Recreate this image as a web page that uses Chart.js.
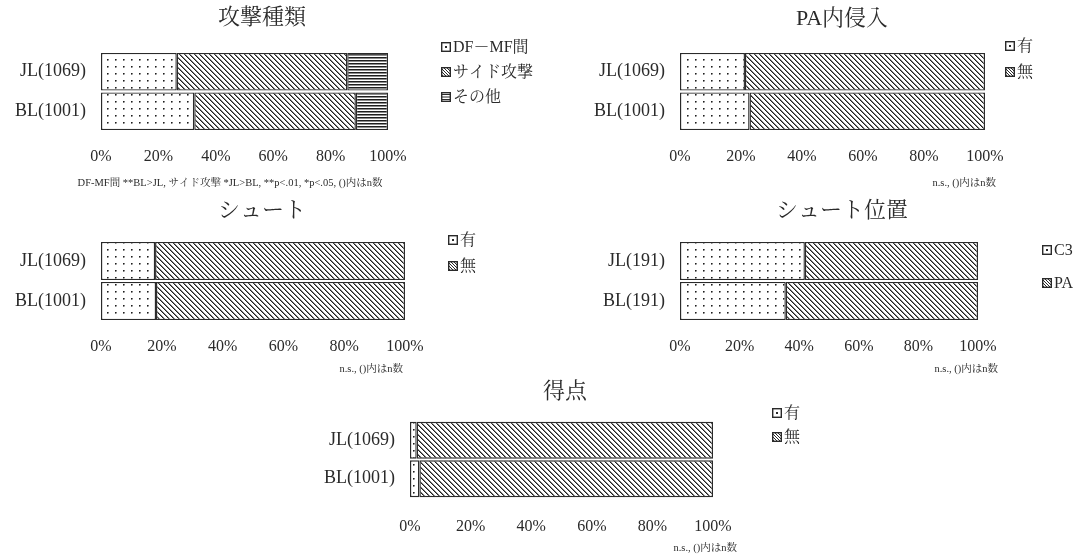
<!DOCTYPE html>
<html>
<head>
<meta charset="utf-8">
<script src="https://cdn.jsdelivr.net/npm/chart.js@4.4.1/dist/chart.umd.min.js"></script>
<style>
  html, body { margin: 0; padding: 0; background: #fff; }
  body { width: 1084px; height: 557px; position: relative; overflow: hidden; }
  canvas { position: absolute; }
</style>
</head>
<body>
<canvas id="cAttack"></canvas>
<canvas id="cPA"></canvas>
<canvas id="cShot"></canvas>
<canvas id="cShotPos"></canvas>
<canvas id="cGoal"></canvas>
<script>
// ---- data (percent of each group) ----
const pctTicks = [0, 20, 40, 60, 80, 100];

const attackTitle = '攻撃種類';
const attackCats = ['JL(1069)', 'BL(1001)'];
const attackLabels = ['DF－MF間', 'サイド攻撃', 'その他'];
const attackDFMF = [26.4, 32.5];
const attackSide = [59.4, 56.3];
const attackOther = [14.2, 11.2];
const attackNote = 'DF-MF間 **BL>JL, サイド攻撃 *JL>BL, **p<.01, *p<.05, ()内はn数';

const paTitle = 'PA内侵入';
const paCats = ['JL(1069)', 'BL(1001)'];
const paLabels = ['有', '無'];
const paYes = [21.3, 22.8];
const paNo = [78.7, 77.2];

const shotTitle = 'シュート';
const shotCats = ['JL(1069)', 'BL(1001)'];
const shotLabels = ['有', '無'];
const shotYes = [17.8, 18.1];
const shotNo = [82.2, 81.9];

const posTitle = 'シュート位置';
const posCats = ['JL(191)', 'BL(191)'];
const posLabels = ['C3', 'PA'];
const posC3 = [41.9, 35.5];
const posPA = [58.1, 64.5];

const goalTitle = '得点';
const goalCats = ['JL(1069)', 'BL(1001)'];
const goalLabels = ['有', '無'];
const goalYes = [2.2, 3.1];
const goalNo = [97.8, 96.9];

const nsNote = 'n.s., ()内はn数';

// ---- styling ----
const FONT = "'Liberation Serif', 'Noto Serif CJK JP', 'Noto Sans CJK JP', serif";
const INK = '#2a2a2a';

function tile(w, h, paint) {
  const c = document.createElement('canvas');
  c.width = w; c.height = h;
  const g = c.getContext('2d');
  const img = g.createImageData(w, h);
  for (let y = 0; y < h; y++) {
    for (let x = 0; x < w; x++) {
      const v = paint(x, y);
      const i = (y * w + x) * 4;
      img.data[i] = img.data[i + 1] = img.data[i + 2] = v;
      img.data[i + 3] = 255;
    }
  }
  g.putImageData(img, 0, 0);
  return g.createPattern(c, 'repeat');
}

const PATTERNS = {
  dot: tile(8, 7, (x, y) => (x === 3 && y === 3) ? 30 : ((x === 4 && y === 3) || (x === 3 && y === 4)) ? 120 : (x === 4 && y === 4) ? 190 : 255),
  diag: tile(5, 5, (x, y) => {
    const d = ((x - y) % 5 + 5) % 5;
    return d === 0 ? 30 : d === 1 ? 130 : 255;
  }),
  hline: tile(4, 3, (x, y) => y === 0 ? 30 : y === 1 ? 140 : 255)
};

function drawIcon(ctx, x, y, s, kind) {
  ctx.save();
  ctx.fillStyle = '#fff';
  ctx.fillRect(x, y, s, s);
  ctx.beginPath();
  ctx.rect(x, y, s, s);
  ctx.clip();
  ctx.strokeStyle = INK;
  ctx.fillStyle = INK;
  ctx.lineWidth = 1;
  if (kind === 'dot') {
    ctx.fillRect(x + s / 2 - 1, y + s / 2 - 1, 2, 2);
  } else if (kind === 'diag') {
    ctx.beginPath();
    for (let k = -s; k <= s; k += 3) {
      ctx.moveTo(x + k, y);
      ctx.lineTo(x + k + s, y + s);
    }
    ctx.stroke();
  } else if (kind === 'hline') {
    ctx.beginPath();
    for (let k = 2.5; k < s; k += 2.5) {
      ctx.moveTo(x, y + k);
      ctx.lineTo(x + s, y + k);
    }
    ctx.stroke();
  }
  ctx.restore();
  ctx.save();
  ctx.strokeStyle = INK;
  ctx.lineWidth = 1.4;
  ctx.strokeRect(x + 0.7, y + 0.7, s - 1.4, s - 1.4);
  ctx.restore();
}

// titles, legend and footnote drawn in page coordinates
const decoPlugin = {
  id: 'deco',
  afterDraw(chart, args, o) {
    const ctx = chart.ctx;
    const bx = o.box.x, by = o.box.y;
    ctx.save();
    ctx.fillStyle = INK;
    ctx.textBaseline = 'middle';

    ctx.font = `22px ${FONT}`;
    ctx.textAlign = 'center';
    ctx.fillText(o.title, o.titleX - bx, o.titleY - by);

    ctx.font = `16px ${FONT}`;
    ctx.textAlign = 'left';
    chart.data.datasets.forEach((ds, i) => {
      const lx = o.legendX - bx, ly = o.legendY[i] - by;
      drawIcon(ctx, lx, ly - 5, 10, ds.kind);
      ctx.fillStyle = INK;
      ctx.fillText(ds.label, lx + 12, ly + 1);
    });

    ctx.font = `10.5px ${FONT}`;
    ctx.textAlign = o.noteAlign;
    ctx.fillText(o.note, o.noteX - bx, o.noteY - by);
    ctx.restore();
  }
};

function makeChart(id, box, area, tickPad, cats, series, deco) {
  const cv = document.getElementById(id);
  cv.width = box.w; cv.height = box.h;
  cv.style.left = box.x + 'px';
  cv.style.top = box.y + 'px';
  const padTop = area.y0 - box.y;
  const padRight = box.x + box.w - area.x1;
  const yAxisW = area.x0 - box.x;
  const xAxisH = box.y + box.h - area.y1;
  return new Chart(cv, {
    type: 'bar',
    data: {
      labels: cats,
      datasets: series.map(s => ({
        label: s.label,
        data: s.data,
        kind: s.kind,
        backgroundColor: PATTERNS[s.kind],
        borderColor: INK,
        borderWidth: 1.4,
        borderSkipped: false,
        barPercentage: 1,
        categoryPercentage: 0.955
      }))
    },
    options: {
      indexAxis: 'y',
      responsive: false,
      animation: false,
      events: [],
      layout: { padding: { top: padTop, right: padRight, left: 0, bottom: 0 } },
      plugins: {
        legend: { display: false },
        title: { display: false },
        tooltip: { enabled: false },
        deco: Object.assign({ box }, deco)
      },
      scales: {
        x: {
          stacked: true, min: 0, max: 100,
          grid: { display: false, drawTicks: false },
          border: { display: false },
          afterFit: s => { s.height = xAxisH; },
          afterBuildTicks: s => { s.ticks = pctTicks.map(v => ({ value: v })); },
          ticks: {
            padding: tickPad, color: INK, autoSkip: false, maxRotation: 0,
            font: { family: FONT, size: 16 },
            callback: v => v + '%'
          }
        },
        y: {
          stacked: true,
          grid: { display: false, drawTicks: false },
          border: { display: false },
          afterFit: s => { s.width = yAxisW; },
          ticks: { padding: 15, color: INK, font: { family: FONT, size: 18 } }
        }
      }
    },
    plugins: [decoPlugin]
  });
}

makeChart('cAttack',
  { x: 0, y: 0, w: 540, h: 190 },
  { x0: 101, x1: 388, y0: 52, y1: 131 }, 16,
  attackCats,
  [
    { label: attackLabels[0], data: attackDFMF, kind: 'dot' },
    { label: attackLabels[1], data: attackSide, kind: 'diag' },
    { label: attackLabels[2], data: attackOther, kind: 'hline' }
  ],
  { title: attackTitle, titleX: 262, titleY: 18,
    legendX: 441, legendY: [47, 72, 97],
    note: attackNote, noteAlign: 'center', noteX: 230, noteY: 183 });

makeChart('cPA',
  { x: 540, y: 0, w: 544, h: 190 },
  { x0: 680, x1: 985, y0: 52, y1: 131 }, 16,
  paCats,
  [
    { label: paLabels[0], data: paYes, kind: 'dot' },
    { label: paLabels[1], data: paNo, kind: 'diag' }
  ],
  { title: paTitle, titleX: 842, titleY: 19,
    legendX: 1005, legendY: [46, 72],
    note: nsNote, noteAlign: 'right', noteX: 996, noteY: 183 });

makeChart('cShot',
  { x: 0, y: 190, w: 540, h: 190 },
  { x0: 101, x1: 405, y0: 241, y1: 321 }, 16,
  shotCats,
  [
    { label: shotLabels[0], data: shotYes, kind: 'dot' },
    { label: shotLabels[1], data: shotNo, kind: 'diag' }
  ],
  { title: shotTitle, titleX: 262, titleY: 211,
    legendX: 448, legendY: [240, 266],
    note: nsNote, noteAlign: 'right', noteX: 403, noteY: 369 });

makeChart('cShotPos',
  { x: 540, y: 190, w: 544, h: 190 },
  { x0: 680, x1: 978, y0: 241, y1: 321 }, 16,
  posCats,
  [
    { label: posLabels[0], data: posC3, kind: 'dot' },
    { label: posLabels[1], data: posPA, kind: 'diag' }
  ],
  { title: posTitle, titleX: 842, titleY: 211,
    legendX: 1042, legendY: [250, 283],
    note: nsNote, noteAlign: 'right', noteX: 998, noteY: 369 });

makeChart('cGoal',
  { x: 290, y: 377, w: 540, h: 180 },
  { x0: 410, x1: 713, y0: 421, y1: 498 }, 19,
  goalCats,
  [
    { label: goalLabels[0], data: goalYes, kind: 'dot' },
    { label: goalLabels[1], data: goalNo, kind: 'diag' }
  ],
  { title: goalTitle, titleX: 565, titleY: 392,
    legendX: 772, legendY: [413, 437],
    note: nsNote, noteAlign: 'right', noteX: 737, noteY: 548 });
</script>
</body>
</html>
